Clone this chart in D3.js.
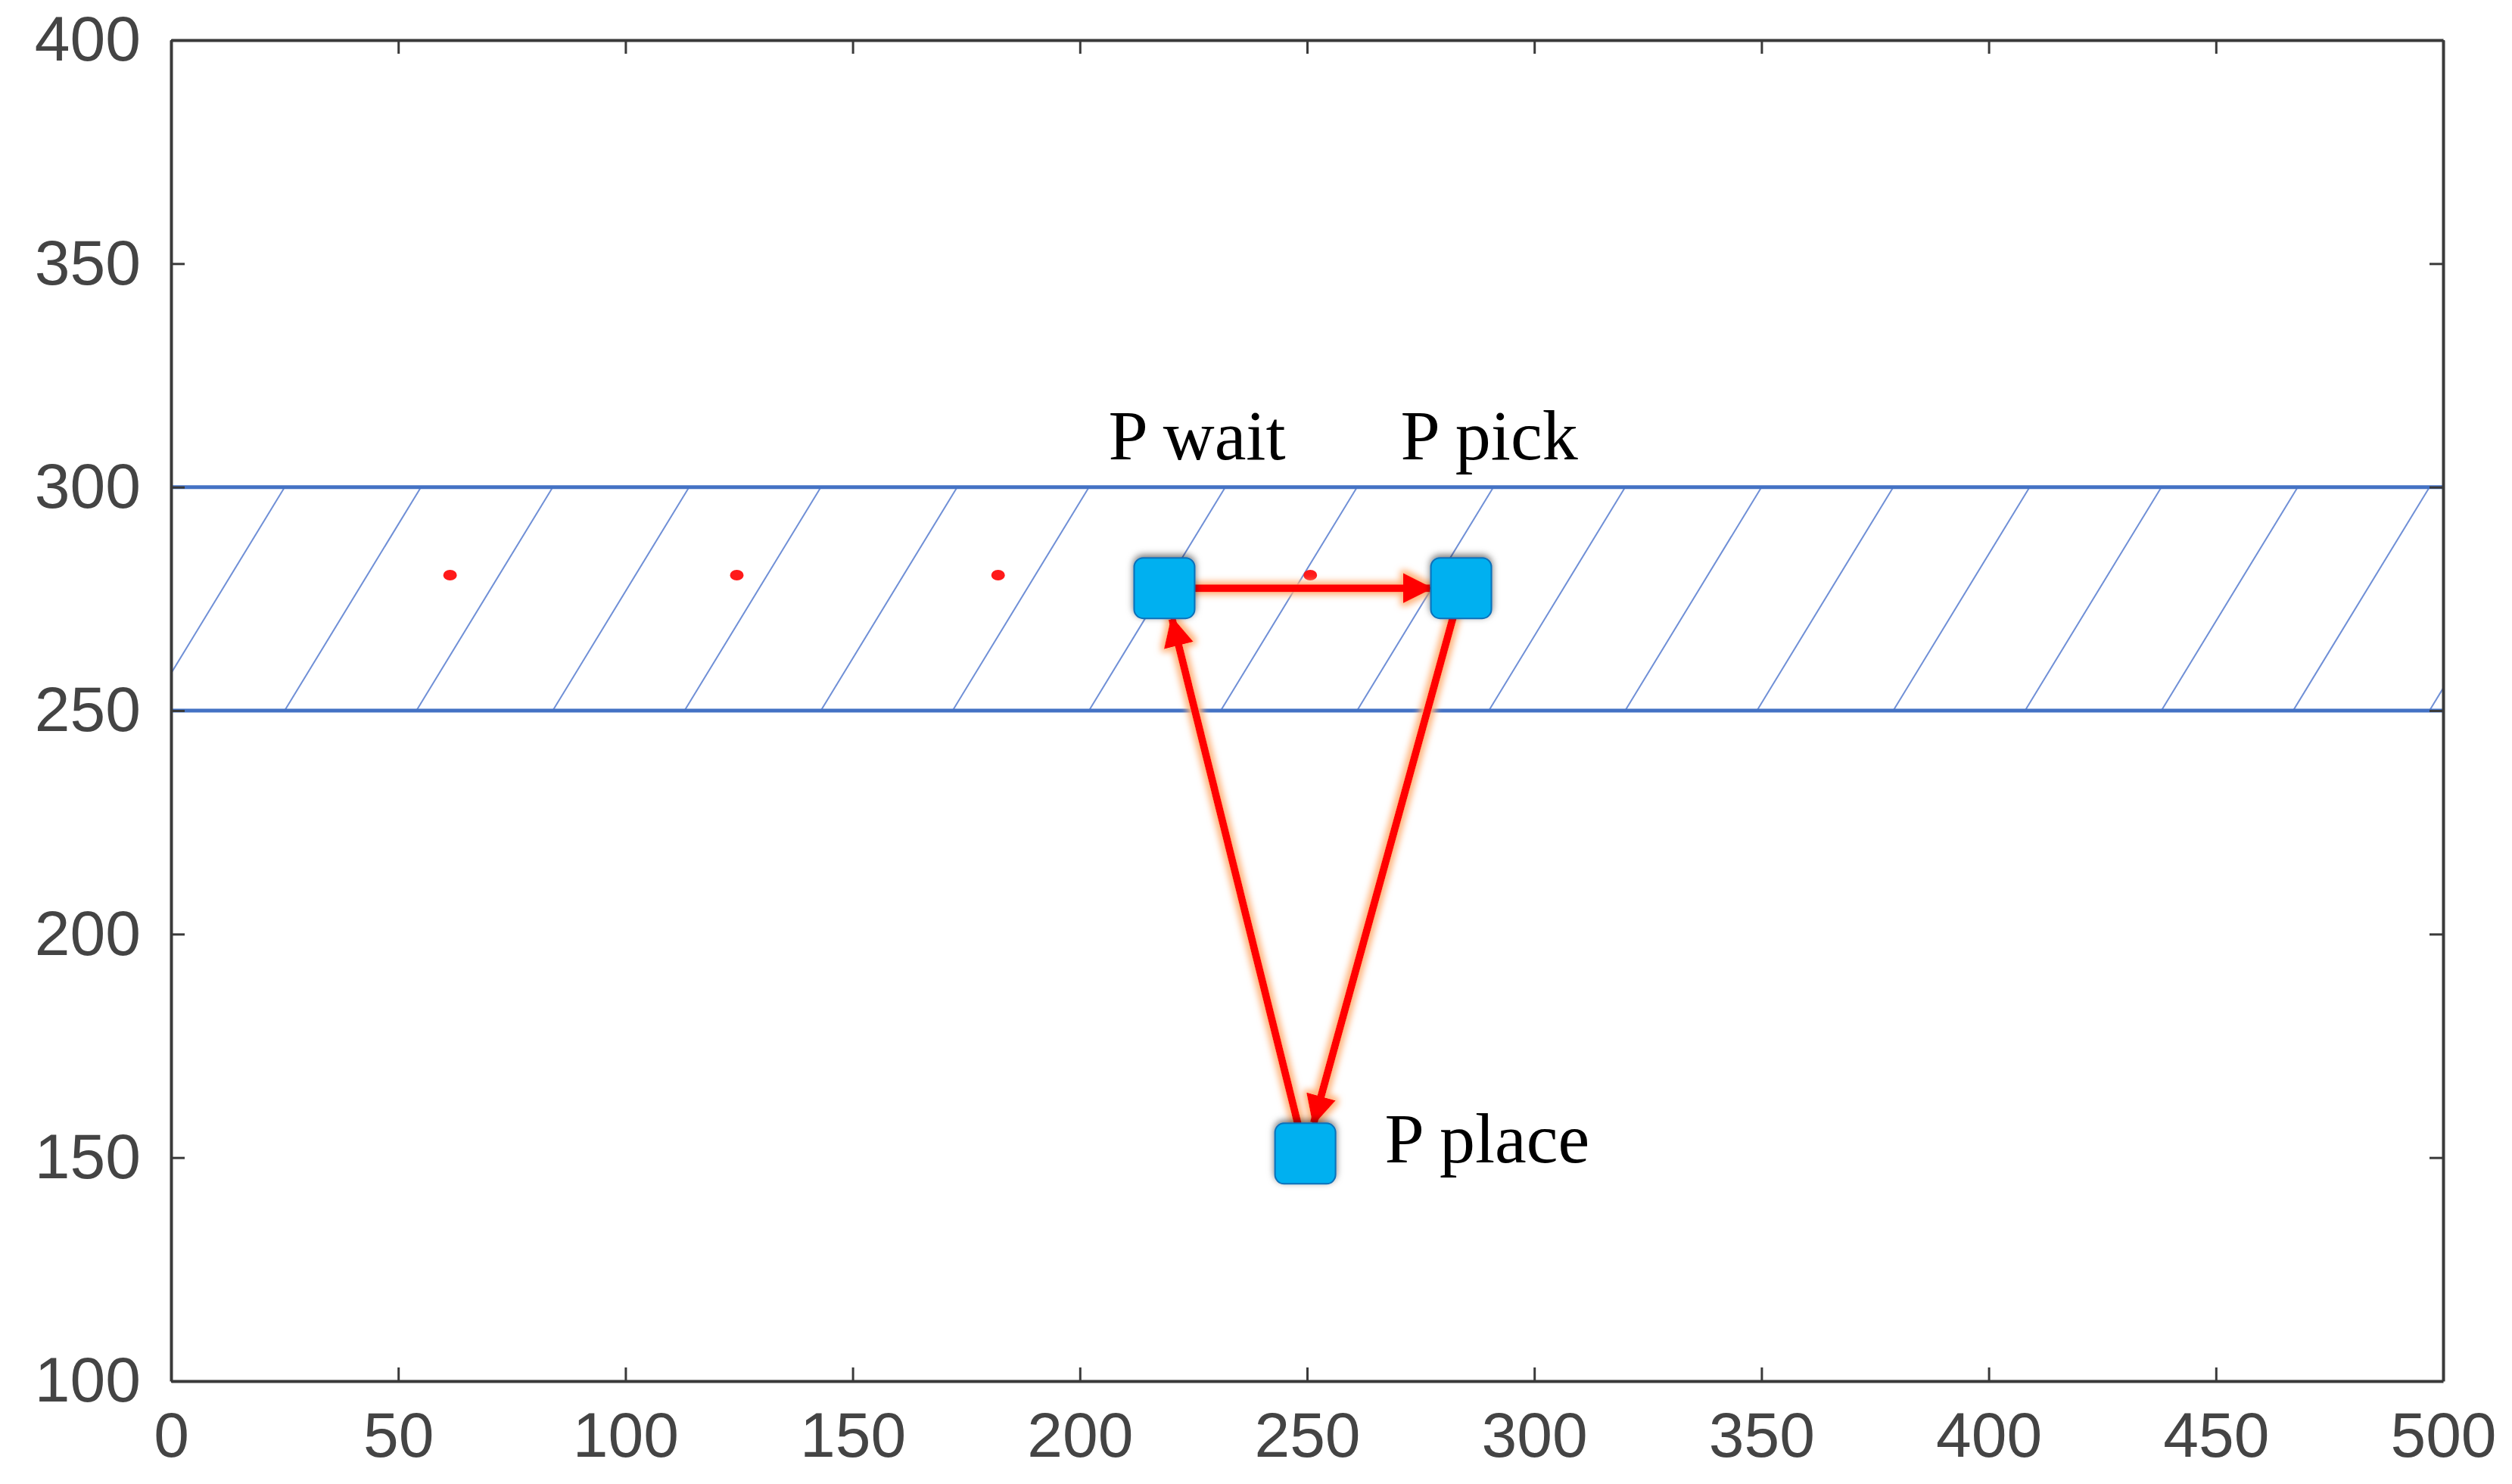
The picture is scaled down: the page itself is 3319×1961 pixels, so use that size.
<!DOCTYPE html>
<html>
<head>
<meta charset="utf-8">
<script src="https://cdn.jsdelivr.net/npm/d3@7"></script>
<style>
  body { margin: 0; background: #fff; }
</style>
</head>
<body>
<svg id="drawing_region"></svg>
<script>
// axis ranges and ticks
const xTicks = [0, 50, 100, 150, 200, 250, 300, 350, 400, 450, 500];
const yTicks = [100, 150, 200, 250, 300, 350, 400];
// the shaded band (y range)
const band = [250, 300];
// start x of each hatch line on the lower band edge
const hatchStarts = [-5, 25, 54, 84, 113, 143, 172, 202, 231, 261, 290, 320, 349, 379, 408, 438, 467, 497];
// key positions
const points = [
    {name: 'P wait',  x: 218.6, y: 277.4},
    {name: 'P pick',  x: 283.9, y: 277.4},
    {name: 'P place', x: 249.6, y: 150.9}
];
// small red markers along the band
const dots = [
    {x: 61.4, y: 280.3},
    {x: 124.5, y: 280.3},
    {x: 182.0, y: 280.3},
    {x: 250.7, y: 280.3}
];
// path between points (indices into points)
const moves = [[0, 1], [1, 2], [2, 0]];

const width = 3319, height = 1961;
const margin = {top: 53, right: 91, bottom: 136, left: 226};
const iw = width - margin.left - margin.right;
const ih = height - margin.top - margin.bottom;

const svg = d3.select('#drawing_region')
    .attr('width', width)
    .attr('height', height);

const defs = svg.append('defs');
defs.append('clipPath').attr('id', 'clip')
    .append('rect').attr('width', iw).attr('height', ih);

const glow = defs.append('filter').attr('id', 'glow')
    .attr('filterUnits', 'userSpaceOnUse')
    .attr('x', -margin.left).attr('y', -margin.top).attr('width', width).attr('height', height);
glow.append('feMorphology').attr('in', 'SourceAlpha').attr('operator', 'dilate').attr('radius', 4).attr('result', 'd');
glow.append('feGaussianBlur').attr('in', 'd').attr('stdDeviation', 4).attr('result', 'b');
glow.append('feFlood').attr('flood-color', '#ffb27a').attr('result', 'c');
glow.append('feComposite').attr('in', 'c').attr('in2', 'b').attr('operator', 'in').attr('result', 'g');
const gm = glow.append('feMerge');
gm.append('feMergeNode').attr('in', 'g');
gm.append('feMergeNode').attr('in', 'SourceGraphic');

const shadow = defs.append('filter').attr('id', 'shadow')
    .attr('x', '-50%').attr('y', '-50%').attr('width', '200%').attr('height', '200%');
shadow.append('feDropShadow').attr('dx', 0).attr('dy', -3).attr('stdDeviation', 5)
    .attr('flood-color', '#000').attr('flood-opacity', 0.55);

defs.append('marker').attr('id', 'head')
    .attr('viewBox', '0 0 10 10').attr('refX', 9).attr('refY', 5)
    .attr('markerWidth', 4).attr('markerHeight', 4).attr('orient', 'auto')
    .attr('markerUnits', 'strokeWidth')
    .append('path').attr('d', 'M0,0 L10,5 L0,10 Z').attr('fill', '#ff0000');

const chart = svg.append('g')
    .attr('transform', `translate(${margin.left}, ${margin.top})`);

const xscale = d3.scaleLinear().domain([0, 500]).range([0, iw]);
const yscale = d3.scaleLinear().domain([100, 400]).range([ih, 0]);

// hatch
chart.append('g').attr('clip-path', 'url(#clip)')
    .selectAll('line').data(hatchStarts).enter().append('line')
    .attr('x1', d => xscale(d)).attr('y1', yscale(band[0]))
    .attr('x2', d => xscale(d + 30)).attr('y2', yscale(band[1]))
    .attr('stroke', '#6f8fd6').attr('stroke-width', 2);

chart.selectAll('.band').data(band).enter().append('line')
    .attr('x1', 0).attr('x2', iw)
    .attr('y1', d => yscale(d)).attr('y2', d => yscale(d))
    .attr('stroke', '#4472c4').attr('stroke-width', 5);

chart.selectAll('.dot').data(dots).enter().append('ellipse')
    .attr('cx', d => xscale(d.x)).attr('cy', d => yscale(d.y))
    .attr('rx', 9).attr('ry', 7).attr('fill', '#ff1a1a');

// axes frame
const tickLen = 18;
const axisStyle = g => {
    g.selectAll('path.domain').attr('stroke', '#3a3a3a').attr('stroke-width', 4);
    g.selectAll('.tick line').attr('stroke', '#3a3a3a').attr('stroke-width', 3);
    g.selectAll('.tick text').attr('fill', '#444').attr('font-family', 'Liberation Sans, Arial, sans-serif').attr('font-size', 84);
};
chart.append('g').attr('transform', `translate(0, ${ih})`)
    .call(d3.axisBottom(xscale).tickValues(xTicks).tickSize(-tickLen).tickSizeOuter(0).tickPadding(40))
    .call(axisStyle);
chart.append('g')
    .call(d3.axisLeft(yscale).tickValues(yTicks).tickSize(-tickLen).tickSizeOuter(0).tickPadding(40))
    .call(axisStyle);
chart.append('g')
    .call(d3.axisTop(xscale).tickValues(xTicks).tickSize(-tickLen).tickSizeOuter(0).tickFormat(''))
    .call(axisStyle);
chart.append('g').attr('transform', `translate(${iw}, 0)`)
    .call(d3.axisRight(yscale).tickValues(yTicks).tickSize(-tickLen).tickSizeOuter(0).tickFormat(''))
    .call(axisStyle);

// arrows
const half = 40;
chart.selectAll('.move').data(moves).enter().append('line')
    .each(function(m) {
        const a = points[m[0]], b = points[m[1]];
        const ax = xscale(a.x), ay = yscale(a.y), bx = xscale(b.x), by = yscale(b.y);
        const dx = bx - ax, dy = by - ay, len = Math.hypot(dx, dy);
        const k = Math.min(half / Math.abs(dx || 1e-9), half / Math.abs(dy || 1e-9));
        const ux = dx / len, uy = dy / len;
        const s = k * len;
        d3.select(this)
            .attr('x1', ax + ux * s * 0.95).attr('y1', ay + uy * s * 0.95)
            .attr('x2', bx - ux * s * 1.02).attr('y2', by - uy * s * 1.02);
    })
    .attr('stroke', '#ff0000').attr('stroke-width', 10)
    .attr('marker-end', 'url(#head)').attr('filter', 'url(#glow)');

chart.selectAll('.pt').data(points).enter().append('rect')
    .attr('x', d => xscale(d.x) - half).attr('y', d => yscale(d.y) - half)
    .attr('width', half * 2).attr('height', half * 2)
    .attr('rx', 12).attr('fill', '#00b0f0')
    .attr('stroke', '#0a6fb8').attr('stroke-width', 2)
    .attr('filter', 'url(#shadow)');

// labels
const labelPos = [
    {dx: -74, dy: -170},
    {dx: -80, dy: -170},
    {dx: 105, dy: 12}
];
chart.selectAll('.lbl').data(points).enter().append('text')
    .attr('x', (d, i) => xscale(d.x) + labelPos[i].dx)
    .attr('y', (d, i) => yscale(d.y) + labelPos[i].dy)
    .attr('font-family', 'Liberation Serif, Times New Roman, serif')
    .attr('font-size', 94).attr('fill', '#000')
    .text(d => d.name);
</script>
</body>
</html>
